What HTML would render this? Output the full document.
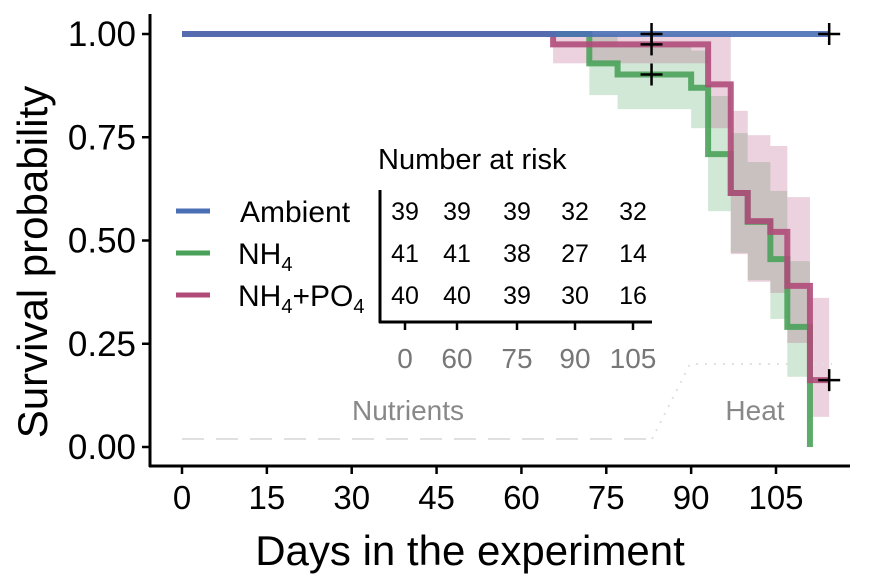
<!DOCTYPE html>
<html><head><meta charset="utf-8"><style>
body{margin:0;background:#fff;}
svg{display:block;font-family:"Liberation Sans",Arial,sans-serif;}
</style></head><body>
<svg id="chart" width="873" height="574"></svg>
<script>
const days = [0,15,30,45,60,75,90,105];
const yTicks = [0,0.25,0.5,0.75,1.0];
const yTickLabels = ["0.00","0.25","0.50","0.75","1.00"];
const ambTimes = [0,114.4];
const ambSurv = [1.0,1.0];
const nh4Times = [0,72,77,90,93,97,100,104,107,111];
const nh4Surv = [1.0,0.929,0.902,0.870,0.709,0.615,0.545,0.455,0.291,0.0];
const nh4Lower = [1.0,0.852,0.818,0.772,0.571,0.47,0.404,0.31,0.17,0.0];
const nh4Upper = [1.0,1.0,0.97,0.96,0.85,0.76,0.69,0.62,0.45,0.0];
const nh4End = 111;
const pTimes = [0,65.6,93,97,100,104,107,111];
const pSurv = [1.0,0.975,0.878,0.615,0.547,0.521,0.39,0.162];
const pLower = [1.0,0.929,0.772,0.467,0.40,0.373,0.252,0.073];
const pUpper = [1.0,1.0,1.0,0.814,0.755,0.729,0.605,0.361];
const pEnd = 114.4;
const censorAmb = [[83,1.0],[114.4,1.0]];
const censorNh4 = [[83,0.902]];
const censorP = [[83,0.975],[114.4,0.162]];
const riskTimes = ["0","60","75","90","105"];
const riskAmb = [39,39,39,32,32];
const riskNh4 = [41,41,38,27,14];
const riskP = [40,40,39,30,16];

const NS="http://www.w3.org/2000/svg";
const svg=document.getElementById('chart');
const X=d=>182+d*(776-182)/105;
const Y=s=>447-s*413;
function el(tag,attrs,parent){const e=document.createElementNS(NS,tag);for(const k in attrs)e.setAttribute(k,attrs[k]);(parent||svg).appendChild(e);return e;}
function txt(s,attrs){const t=el('text',attrs);t.textContent=s;return t;}

function band(times,lo,up,end,color,name){
  for(let i=0;i<times.length;i++){
    const t1=i<times.length-1?times[i+1]:end;
    if(t1<=times[i])continue;
    const r=el('rect',{x:X(times[i]),y:Y(up[i]),width:X(t1)-X(times[i]),height:Y(lo[i])-Y(up[i]),fill:color,'fill-opacity':0.25});
    
    
  }
}
band(nh4Times,nh4Lower,nh4Upper,nh4End,'#4aa25a','nh4-ci-band');
band(pTimes,pLower,pUpper,pEnd,'#b04b7a','nh4po4-ci-band');

const dl=el('line',{x1:X(0),y1:439,x2:652,y2:439,stroke:'#e0e0e0','stroke-width':2,'stroke-dasharray':'22,12'});


const hl=el('polyline',{points:'652,439 690,364 832,364',fill:'none',stroke:'#e0e0e0','stroke-width':2,'stroke-dasharray':'2,7'});


const nt=txt('Nutrients',{x:408,y:420,'font-size':28,fill:'#888','text-anchor':'middle'});


const ht=txt('Heat',{x:755,y:420,'font-size':28,fill:'#888','text-anchor':'middle'});



function step(times,surv,end,color,name,w){
  let p=`M${X(times[0])},${Y(surv[0])}`;
  for(let i=1;i<times.length;i++){p+=` H${X(times[i])} V${Y(surv[i])}`;}
  p+=` H${X(end)}`;
  const e=el('path',{d:p,fill:'none',stroke:color,'stroke-width':w,'stroke-opacity':0.9});
  
  
}
step(nh4Times,nh4Surv,nh4End,'#4aa25a','nh4-curve',6);
step(pTimes,pSurv,pEnd,'#b04b7a','nh4po4-curve',6);
step(ambTimes,ambSurv,114.4,'#4a6fb5','ambient-curve',6);

function censor(list,name){list.forEach(c=>{
  const g=el('path',{d:`M${X(c[0])-11},${Y(c[1])} h22 M${X(c[0])},${Y(c[1])-11} v22`,stroke:'#000','stroke-width':2.5});
  
  
});}
censor(censorAmb,'ambient-censor-mark');censor(censorNh4,'nh4-censor-mark');censor(censorP,'nh4po4-censor-mark');

const ya=el('line',{x1:150,y1:14,x2:150,y2:467,stroke:'#000','stroke-width':3});


const xa=el('line',{x1:149,y1:466,x2:850,y2:466,stroke:'#000','stroke-width':3});


yTicks.forEach((v,i)=>{
  const t=el('line',{x1:142,x2:150,y1:Y(v),y2:Y(v),stroke:'#000','stroke-width':2.5});
  
  
  const l=txt(yTickLabels[i],{x:136,y:Y(v)+12,'font-size':35,'text-anchor':'end',fill:'#000'});
  
  
});
days.forEach(d=>{
  const t=el('line',{x1:X(d),x2:X(d),y1:466,y2:474,stroke:'#000','stroke-width':2.5});
  
  
  const l=txt(String(d),{x:X(d),y:509,'font-size':33,'text-anchor':'middle',fill:'#000'});
  
  
});
const xt=txt('Days in the experiment',{x:470,y:565,'font-size':42,'text-anchor':'middle',fill:'#000'});


const yt=txt('Survival probability',{x:0,y:0,'font-size':42,'text-anchor':'middle',fill:'#000',transform:'translate(47,262) rotate(-90)'});



const legItems=[['#4a6fb5','Ambient',211,'legend-ambient'],['#4aa25a','NH<tspan font-size="20" dy="7">4</tspan>',253,'legend-nh4'],['#b04b7a','NH<tspan font-size="20" dy="7">4</tspan><tspan dy="-7">+PO</tspan><tspan font-size="20" dy="7">4</tspan>',295,'legend-nh4po4']];
legItems.forEach(it=>{
  const g=el('g',{});
  
  
  el('line',{x1:176,x2:210,y1:it[2],y2:it[2],stroke:it[0],'stroke-width':5},g);
  const t=el('text',{x:it[1]==='Ambient'?240:238,y:it[2]+11,'font-size':30,fill:'#000'},g);
  t.innerHTML=it[1];
});

const rh=txt('Number at risk',{x:378,y:169,'font-size':29,fill:'#000'});


const rv=el('line',{x1:380,y1:190,x2:380,y2:323,stroke:'#000','stroke-width':3});


const rhz=el('line',{x1:379,y1:322,x2:652,y2:322,stroke:'#000','stroke-width':3});


const rx=[405,457,517,575,633];
riskTimes.forEach((t,i)=>{
  const tk=el('line',{x1:rx[i],x2:rx[i],y1:322,y2:330,stroke:'#000','stroke-width':2.5});
  
  
  const l=txt(t,{x:rx[i],y:368,'font-size':28,fill:'#777','text-anchor':'middle'});
  
  
});
[[riskAmb,220],[riskNh4,262],[riskP,304]].forEach(r=>{
  r[0].forEach((v,i)=>{
    const l=txt(String(v),{x:rx[i],y:r[1],'font-size':25,fill:'#000','text-anchor':'middle'});
    
    
  });
});
</script>
</body></html>
